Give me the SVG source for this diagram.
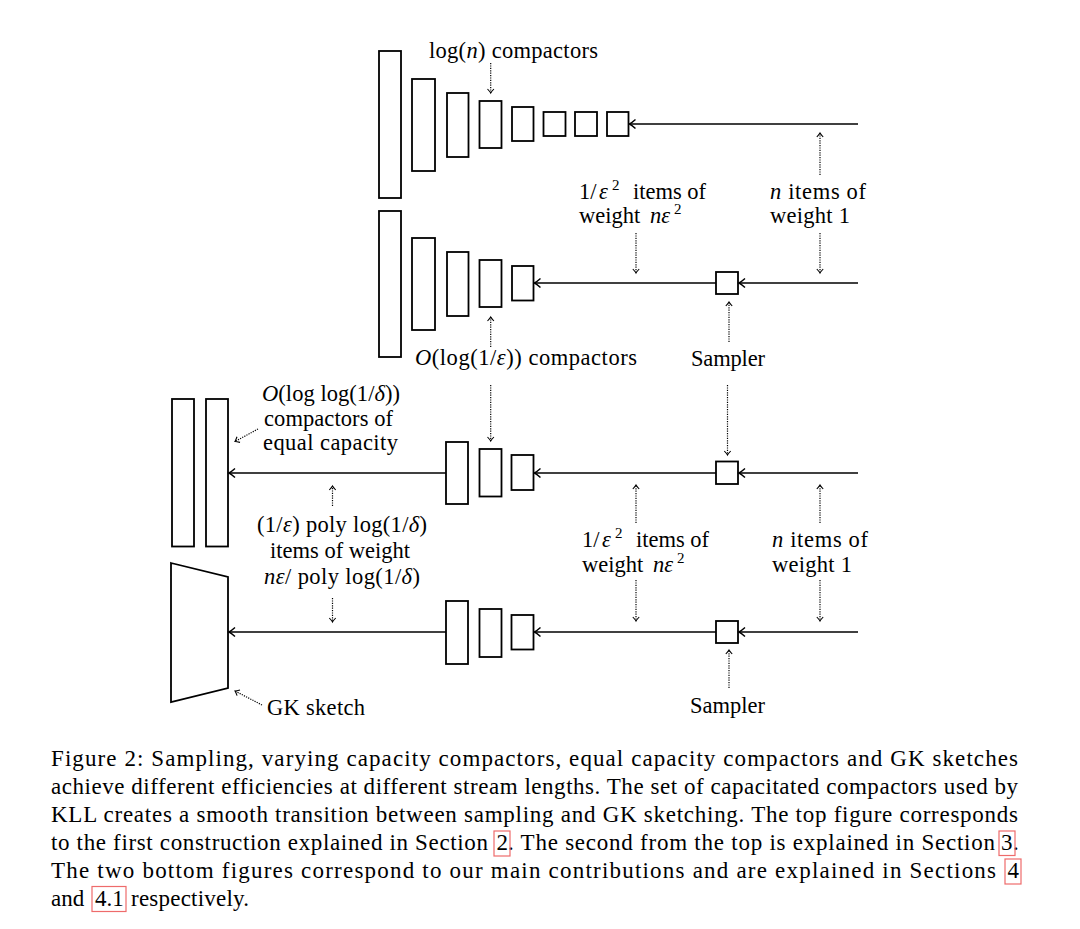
<svg xmlns="http://www.w3.org/2000/svg" width="1080" height="929" viewBox="0 0 1080 929">
<style>
text{font-family:"Liberation Serif","Times New Roman",serif;font-size:22.5px;fill:#000}
.cap{font-size:23px}
.sup{font-size:15px}
.i{font-style:italic}
.box{fill:#fff;stroke:#000;stroke-width:1.8}
.ln{stroke:#000;stroke-width:1.6;fill:none}
.dot{stroke:#000;stroke-width:1.2;fill:none;stroke-dasharray:1.2 1.2}
.ref{fill:none;stroke:#ee6b6b;stroke-width:1.2}
</style>
<defs>
<marker id="arr" viewBox="-8 -6 10 12" markerWidth="10" markerHeight="12" refX="0" refY="0" orient="auto" markerUnits="userSpaceOnUse">
<path d="M-6,-4.5 Q-2,-1 0,0 Q-2,1 -6,4.5" fill="none" stroke="#000" stroke-width="1.5"/>
</marker>
<marker id="darr" viewBox="-6 -5 8 10" markerWidth="8" markerHeight="10" refX="0" refY="0" orient="auto" markerUnits="userSpaceOnUse">
<path d="M-4,-3.2 Q-1.3,-0.7 0,0 Q-1.3,0.7 -4,3.2" fill="none" stroke="#000" stroke-width="1.1"/>
</marker>
</defs>
<rect width="1080" height="929" fill="#fff"/>

<g id="row1-compactors">
<rect class="box" x="379" y="51" width="22" height="147"/>
<rect class="box" x="412" y="79" width="23" height="92"/>
<rect class="box" x="447" y="93" width="21.5" height="64"/>
<rect class="box" x="479.5" y="101" width="22" height="47"/>
<rect class="box" x="512" y="107" width="21.5" height="34"/>
<rect class="box" x="543.5" y="112" width="22" height="24"/>
<rect class="box" x="575" y="112" width="22" height="24"/>
<rect class="box" x="607" y="112" width="21.5" height="24"/>
</g>
<g id="row2-compactors">
<rect class="box" x="379" y="211" width="22" height="146"/>
<rect class="box" x="412" y="238" width="23" height="92"/>
<rect class="box" x="447" y="252" width="21.5" height="64"/>
<rect class="box" x="479.5" y="260" width="22" height="47"/>
<rect class="box" x="512" y="266" width="21.5" height="34.5"/>
</g>
<g id="row2-sampler"><rect class="box" x="716" y="272" width="22" height="22"/></g>
<g id="row3-equal">
<rect class="box" x="172" y="399" width="22" height="147.5"/>
<rect class="box" x="206" y="399" width="22" height="147.5"/>
</g>
<g id="row3-compactors">
<rect class="box" x="446" y="442" width="22" height="62"/>
<rect class="box" x="479.5" y="449" width="22" height="47.5"/>
<rect class="box" x="511.5" y="455" width="22" height="35"/>
</g>
<g id="row3-sampler"><rect class="box" x="716" y="461.5" width="22" height="22.5"/></g>
<g id="row4-gk"><polygon class="box" points="171,563 228,577 228,688 171,702"/></g>
<g id="row4-compactors">
<rect class="box" x="446" y="601" width="22" height="63"/>
<rect class="box" x="479.5" y="609" width="22" height="48"/>
<rect class="box" x="511.5" y="615" width="22" height="34.5"/>
</g>
<g id="row4-sampler"><rect class="box" x="716" y="621" width="22" height="22"/></g>

<g id="connectors">
<line class="ln" x1="858" y1="124" x2="629.5" y2="124" marker-end="url(#arr)"/>
<line class="ln" x1="858" y1="283" x2="739" y2="283" marker-end="url(#arr)"/>
<line class="ln" x1="716" y1="283" x2="534.5" y2="283" marker-end="url(#arr)"/>
<line class="ln" x1="858" y1="473" x2="739" y2="473" marker-end="url(#arr)"/>
<line class="ln" x1="716" y1="473" x2="534.5" y2="473" marker-end="url(#arr)"/>
<line class="ln" x1="446" y1="473" x2="229" y2="473" marker-end="url(#arr)"/>
<line class="ln" x1="858" y1="632" x2="739" y2="632" marker-end="url(#arr)"/>
<line class="ln" x1="716" y1="632" x2="534.5" y2="632" marker-end="url(#arr)"/>
<line class="ln" x1="446" y1="632" x2="229" y2="632" marker-end="url(#arr)"/>

<line class="dot" x1="490.7" y1="63" x2="490.7" y2="93" marker-end="url(#darr)"/>
<line class="dot" x1="820" y1="175" x2="820" y2="133" marker-end="url(#darr)"/>
<line class="dot" x1="636" y1="233" x2="636" y2="273" marker-end="url(#darr)"/>
<line class="dot" x1="820" y1="233" x2="820" y2="273" marker-end="url(#darr)"/>
<line class="dot" x1="729" y1="342" x2="729" y2="302" marker-end="url(#darr)"/>
<line class="dot" x1="490.7" y1="347" x2="490.7" y2="317" marker-end="url(#darr)"/>
<line class="dot" x1="490.7" y1="385" x2="490.7" y2="441" marker-end="url(#darr)"/>
<line class="dot" x1="727.5" y1="385" x2="727.5" y2="455" marker-end="url(#darr)"/>
<line class="dot" x1="636" y1="523" x2="636" y2="485" marker-end="url(#darr)"/>
<line class="dot" x1="820" y1="523" x2="820" y2="485" marker-end="url(#darr)"/>
<line class="dot" x1="332.5" y1="506" x2="332.5" y2="486" marker-end="url(#darr)"/>
<line class="dot" x1="258" y1="429" x2="235" y2="441.5" marker-end="url(#darr)"/>
<line class="dot" x1="636" y1="580" x2="636" y2="621" marker-end="url(#darr)"/>
<line class="dot" x1="820" y1="580" x2="820" y2="621" marker-end="url(#darr)"/>
<line class="dot" x1="332.5" y1="598" x2="332.5" y2="622" marker-end="url(#darr)"/>
<line class="dot" x1="729" y1="688" x2="729" y2="650" marker-end="url(#darr)"/>
<line class="dot" x1="262" y1="705" x2="235" y2="691" marker-end="url(#darr)"/>
</g>

<g id="labels">
<text x="429" y="58" textLength="169" lengthAdjust="spacing">log(<tspan class="i">n</tspan>) compactors</text>

<text x="579" y="199">1/</text>
<text class="i" x="599" y="199">ε</text>
<text class="sup" x="612" y="190">2</text>
<text x="633" y="199">items of</text>
<text x="579" y="223">weight</text>
<text class="i" x="650" y="223">nε</text>
<text class="sup" x="674" y="214">2</text>
<text x="770" y="199" textLength="96" lengthAdjust="spacing"><tspan class="i">n</tspan> items of</text>
<text x="770" y="223" textLength="80" lengthAdjust="spacing">weight 1</text>

<text x="415" y="365" textLength="222" lengthAdjust="spacing"><tspan class="i">O</tspan>(log(1/<tspan class="i">ε</tspan>)) compactors</text>
<text x="691" y="366" textLength="74" lengthAdjust="spacing">Sampler</text>

<text x="262" y="401" textLength="138" lengthAdjust="spacing"><tspan class="i">O</tspan>(log log(1/<tspan class="i">δ</tspan>))</text>
<text x="264" y="426" textLength="129" lengthAdjust="spacing">compactors of</text>
<text x="263" y="450" textLength="135" lengthAdjust="spacing">equal capacity</text>

<text x="257" y="532" textLength="170" lengthAdjust="spacing">(1/<tspan class="i">ε</tspan>) poly log(1/<tspan class="i">δ</tspan>)</text>
<text x="270" y="558" textLength="140" lengthAdjust="spacing">items of weight</text>
<text x="264" y="584" textLength="156" lengthAdjust="spacing"><tspan class="i">nε</tspan>/ poly log(1/<tspan class="i">δ</tspan>)</text>

<text x="582" y="547">1/</text>
<text class="i" x="602" y="547">ε</text>
<text class="sup" x="615" y="538">2</text>
<text x="636" y="547">items of</text>
<text x="582" y="572">weight</text>
<text class="i" x="653" y="572">nε</text>
<text class="sup" x="677" y="563">2</text>
<text x="772" y="547" textLength="96" lengthAdjust="spacing"><tspan class="i">n</tspan> items of</text>
<text x="772" y="572" textLength="80" lengthAdjust="spacing">weight 1</text>

<text x="690" y="713" textLength="75" lengthAdjust="spacing">Sampler</text>
<text x="267" y="715" textLength="98" lengthAdjust="spacing">GK sketch</text>
</g>

<g id="caption">
<text class="cap" x="51" y="766" textLength="967" lengthAdjust="spacing">Figure 2: Sampling, varying capacity compactors, equal capacity compactors and GK sketches</text>
<text class="cap" x="51" y="794" textLength="967" lengthAdjust="spacing">achieve different efficiencies at different stream lengths. The set of capacitated compactors used by</text>
<text class="cap" x="51" y="822" textLength="967" lengthAdjust="spacing">KLL creates a smooth transition between sampling and GK sketching. The top figure corresponds</text>
<text class="cap" x="51" y="850" textLength="437" lengthAdjust="spacing">to the first construction explained in Section</text>
<text class="cap" x="496.5" y="850">2</text>
<text class="cap" x="508" y="850" textLength="487" lengthAdjust="spacing">. The second from the top is explained in Section</text>
<text class="cap" x="1001" y="850">3</text>
<text class="cap" x="1013" y="850">.</text>
<text class="cap" x="51" y="878" textLength="945" lengthAdjust="spacing">The two bottom figures correspond to our main contributions and are explained in Sections</text>
<text class="cap" x="1007.5" y="878">4</text>
<text class="cap" x="51" y="905.5">and</text>
<text class="cap" x="95" y="905.5">4.1</text>
<text class="cap" x="131" y="905.5" textLength="118" lengthAdjust="spacing">respectively.</text>
<rect class="ref" x="494" y="831" width="16" height="25"/>
<rect class="ref" x="999" y="831" width="16" height="24.5"/>
<rect class="ref" x="1005" y="859" width="16" height="25"/>
<rect class="ref" x="92" y="886.5" width="34" height="25"/>
</g>
</svg>
